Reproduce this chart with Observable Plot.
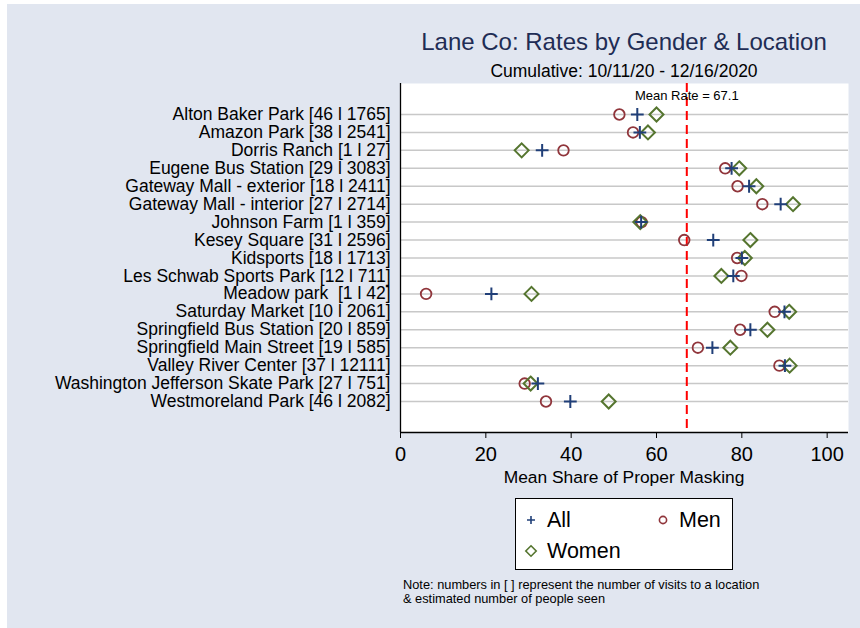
<!DOCTYPE html>
<html><head><meta charset="utf-8">
<script src="https://cdn.jsdelivr.net/npm/d3@7"></script>
<script src="https://cdn.jsdelivr.net/npm/@observablehq/plot@0.6"></script>
<style>
body{margin:0;background:#fff;font-family:"Liberation Sans",Arial,Helvetica,sans-serif;color:#000;}
#bg{position:absolute;left:7px;top:4px;width:853px;height:624px;background:#e1e6f0;}
#title{position:absolute;left:324px;width:600px;top:27px;line-height:30px;text-align:center;font-size:24px;color:#1f2d55;white-space:nowrap;}
#subtitle{position:absolute;left:324px;width:600px;top:61px;line-height:20px;text-align:center;font-size:17.5px;white-space:nowrap;}
#chart{position:absolute;left:0;top:80px;}
#xlabel{position:absolute;left:324px;width:600px;top:467px;line-height:20px;text-align:center;font-size:17.4px;}
#legend{position:absolute;left:515px;top:498px;width:216px;height:70px;border:1px solid #000;background:#fff;}
.item{position:absolute;font-size:21.5px;line-height:22px;white-space:nowrap;}
.item svg{position:absolute;}
#note{position:absolute;left:403px;top:578px;font-size:12.8px;line-height:13.5px;white-space:nowrap;}
</style>
</head><body>
<div id="bg"></div>
<div id="title">Lane Co: Rates by Gender &amp; Location</div>
<div id="subtitle">Cumulative: 10/11/20 - 12/16/2020</div>
<div id="chart"></div>
<div id="xlabel">Mean Share of Proper Masking</div>
<div id="legend"></div>
<div id="note">Note: numbers in [ ] represent the number of visits to a location<br>&amp; estimated number of people seen</div>
<script>
const locations = [
  "Alton Baker Park [46 l 1765]",
  "Amazon Park [38 l 2541]",
  "Dorris Ranch [1 l 27]",
  "Eugene Bus Station [29 l 3083]",
  "Gateway Mall - exterior [18 l 2411]",
  "Gateway Mall - interior [27 l 2714]",
  "Johnson Farm [1 l 359]",
  "Kesey Square [31 l 2596]",
  "Kidsports [18 l 1713]",
  "Les Schwab Sports Park [12 l 711]",
  "Meadow park  [1 l 42]",
  "Saturday Market [10 l 2061]",
  "Springfield Bus Station [20 l 859]",
  "Springfield Main Street [19 l 585]",
  "Valley River Center [37 l 12111]",
  "Washington Jefferson Skate Park [27 l 751]",
  "Westmoreland Park [46 l 2082]"
];
const allRates   = [55.5, 56.1, 33.2, 77.6, 81.7, 89.1, 56.4, 73.3, 80.0, 78.0, 21.3, 90.0, 82.0, 73.1, 90.1, 32.2, 39.8];
const menRates   = [51.3, 54.5, 38.2, 76.1, 79.0, 84.8, 56.5, 66.5, 78.9, 79.9,  6.0, 87.7, 79.6, 69.7, 88.8, 29.1, 34.1];
const womenRates = [60.0, 58.0, 28.4, 79.4, 83.4, 92.0, 56.2, 82.0, 80.7, 75.2, 30.7, 91.1, 86.0, 77.3, 91.2, 30.5, 48.8];
const meanRate = 67.1;
const xTicks = [0, 20, 40, 60, 80, 100];
const seriesNames = ["All", "Men", "Women"];

const colors = {All: "#203f78", Men: "#90353b", Women: "#55752f"};
const rows = locations.map((name, i) => ({i, name, all: allRates[i], men: menRates[i], women: womenRates[i]}));
const pad = 1.728;
const yMax = locations.length - 1 + pad;

const chart = Plot.plot({
  width: 860, height: 410,
  marginTop: 3, marginBottom: 58, marginLeft: 400, marginRight: 12,
  style: {background: "transparent", fontFamily: '"Liberation Sans", Arial, Helvetica, sans-serif', color: "#000", overflow: "visible"},
  x: {domain: [0, 105]},
  y: {domain: [-pad, yMax], reverse: true},
  marks: [
    Plot.frame({fill: "white", stroke: "none"}),
    Plot.ruleY(rows.map(d => d.i), {stroke: "#c8c8c8", strokeWidth: 1.5}),
    Plot.ruleX([meanRate], {stroke: "#ff0000", strokeWidth: 2, strokeDasharray: "9,5"}),
    Plot.text([meanRate], {x: d => d, frameAnchor: "top", dy: 7, text: d => `Mean Rate = ${d}`, fontSize: 13, fill: "#000"}),
    Plot.ruleX([0], {stroke: "#000", strokeWidth: 1.3}),
    Plot.ruleY([yMax], {stroke: "#000", strokeWidth: 1.3}),
    Plot.axisX({ticks: xTicks, tickSize: 6, tickPadding: 8, fontSize: 20, label: null, stroke: "#000"}),
    Plot.axisY({ticks: rows.map(d => d.i), tickFormat: i => locations[i], tickSize: 0, tickPadding: 10, fontSize: 17.5, label: null}),
    Plot.dot(rows, {x: "men", y: "i", symbol: "circle", r: 5.3, stroke: colors.Men, strokeWidth: 1.8, fill: "none"}),
    Plot.dot(rows, {x: "women", y: "i", symbol: "diamond2", r: 6.3, stroke: colors.Women, strokeWidth: 2, fill: "none"}),
    Plot.dot(rows, {x: "all", y: "i", symbol: "plus", r: 4.2, stroke: colors.All, strokeWidth: 2})
  ]
});
document.getElementById("chart").appendChild(chart);

// legend
const legend = document.getElementById("legend");
const symbolsSvg = {
  All: `<svg width="12" height="12" viewBox="-6 -6 12 12"><path d="M-4,0H4M0,-4V4" stroke="${colors.All}" stroke-width="1.6" fill="none"/></svg>`,
  Men: `<svg width="12" height="12" viewBox="-6 -6 12 12"><circle r="3.6" stroke="${colors.Men}" stroke-width="1.6" fill="none"/></svg>`,
  Women: `<svg width="14" height="14" viewBox="-7 -7 14 14"><path d="M0,-5.2L5.2,0L0,5.2L-5.2,0Z" stroke="${colors.Women}" stroke-width="1.6" fill="none"/></svg>`
};
const legendPos = {All: [8, 10], Men: [140, 10], Women: [8, 41]};
seriesNames.forEach(name => {
  const [lx, ly] = legendPos[name];
  const el = document.createElement("div");
  el.className = "item";
  el.style.left = lx + "px";
  el.style.top = ly + "px";
  const w = name === "Women" ? 14 : 12;
  el.innerHTML = `<span style="position:absolute;left:${7 - w/2}px;top:${11 - w/2}px;width:${w}px;height:${w}px;">${symbolsSvg[name]}</span><span style="position:absolute;left:23px;top:0;">${name}</span>`;
  legend.appendChild(el);
});
</script>
</body></html>
